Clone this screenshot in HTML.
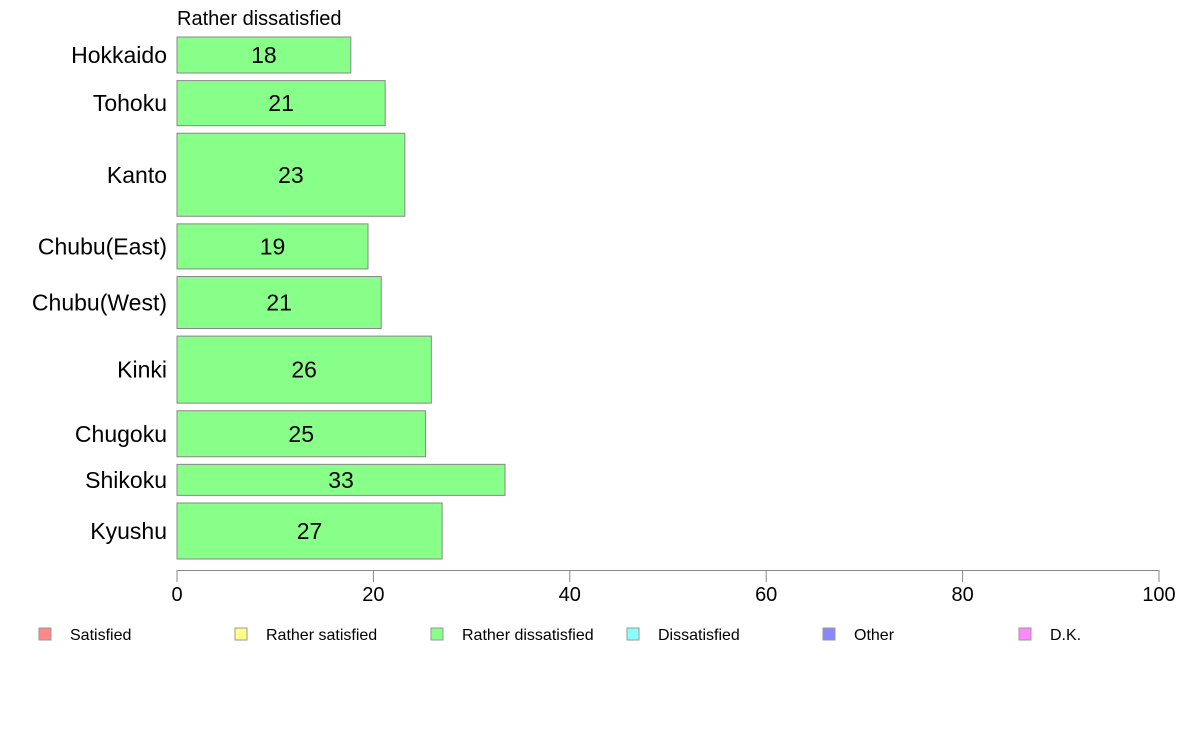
<!DOCTYPE html>
<html><head><meta charset="utf-8"><style>
html,body{margin:0;padding:0;background:#fff;}
svg{display:block;font-family:"Liberation Sans",Arial,sans-serif;}
</style></head><body>
<svg id="chart" width="1188" height="736" viewBox="0 0 1188 736"></svg>
<script>
const categories = ["Hokkaido","Tohoku","Kanto","Chubu(East)","Chubu(West)","Kinki","Chugoku","Shikoku","Kyushu"];
const values = [17.7, 21.2, 23.2, 19.45, 20.8, 25.9, 25.3, 33.4, 27.0];
const labels = ["18","21","23","19","21","26","25","33","27"];
const weights = [36, 45, 83, 45, 52, 67, 46, 31, 56];
const ticks = [0, 20, 40, 60, 80, 100];
const legendNames = ["Satisfied","Rather satisfied","Rather dissatisfied","Dissatisfied","Other","D.K."];
const legendColors = ["#ff8888","#ffff88","#88ff88","#88ffff","#8888ff","#ff88ff"];

const NS = "http://www.w3.org/2000/svg";
const svg = document.getElementById("chart");
function mk(tag, attrs, parent){ const e=document.createElementNS(NS,tag); for(const k in attrs) e.setAttribute(k,attrs[k]); (parent||svg).appendChild(e); return e; }
const x0=177, x1=1159, yTop=37, yBot=559, gap=7.6;
const xs = v => x0 + (v/100)*(x1-x0);
const totalW = weights.reduce((a,b)=>a+b,0);
const avail = (yBot-yTop) - gap*(weights.length-1);

const title = mk("text",{x:177,y:25,"font-size":20,fill:"#000"});


title.textContent="Rather dissatisfied";

let y=yTop;
categories.forEach((c,i)=>{
  const h = weights[i]/totalW*avail;
  const r = mk("rect",{x:x0,y:y,width:xs(values[i])-x0,height:h,fill:"#88ff88",stroke:"#888","stroke-width":1});
  
  
  const t = mk("text",{x:(x0+xs(values[i]))/2,y:y+h/2+8,"font-size":23,"text-anchor":"middle",fill:"#000"});
  
  
  t.textContent=labels[i];
  const l = mk("text",{x:167,y:y+h/2+8,"font-size":23,"text-anchor":"end",fill:"#000"});
  
  
  l.textContent=c;
  y += h + gap;
});

const ax = mk("line",{x1:x0,x2:x1,y1:570.5,y2:570.5,stroke:"#888","stroke-width":1});


ticks.forEach(v=>{
  const tl = mk("line",{x1:xs(v),x2:xs(v),y1:570,y2:582,stroke:"#888","stroke-width":1});
  
  
  const tt = mk("text",{x:xs(v),y:601,"font-size":20,"text-anchor":"middle",fill:"#000"});
  
  
  tt.textContent=v;
});

legendNames.forEach((n,i)=>{
  const lx = 39 + i*196;
  const sq = mk("rect",{x:lx,y:628,width:12,height:12,fill:legendColors[i],stroke:"#999","stroke-width":1});
  
  
  const lt = mk("text",{x:lx+31,y:640,"font-size":16,fill:"#000"});
  
  
  lt.textContent=n;
});
</script>
</body></html>
